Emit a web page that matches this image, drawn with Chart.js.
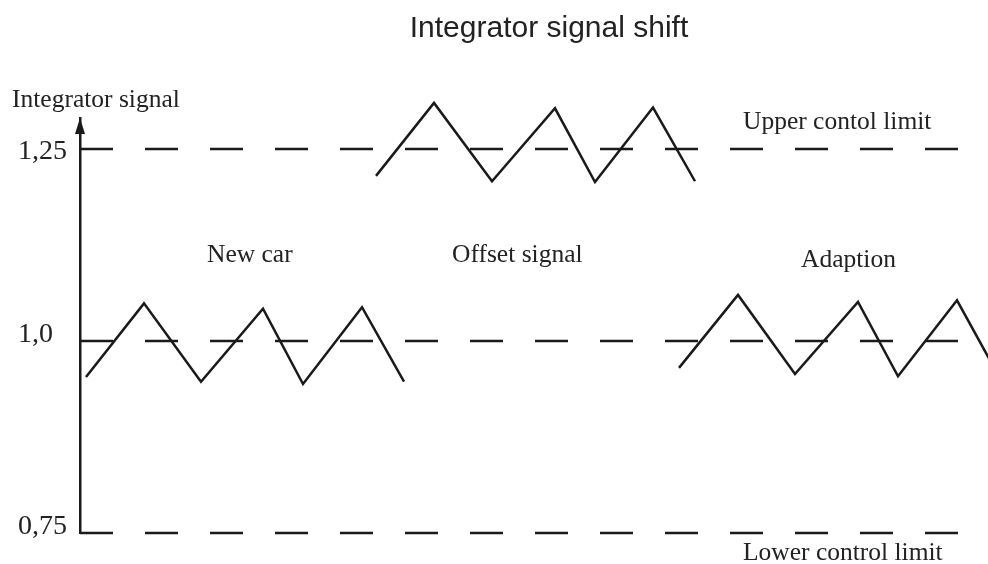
<!DOCTYPE html>
<html>
<head>
<meta charset="utf-8">
<title>Integrator signal shift</title>
<script src="https://cdn.jsdelivr.net/npm/chart.js@4/dist/chart.umd.min.js"></script>
<style>
  html, body { margin: 0; padding: 0; background: #fff; }
  #wrap { width: 988px; height: 564px; position: relative; }
</style>
</head>
<body>
<div id="wrap"><canvas id="signalChart"></canvas></div>
<script>
// time axis runs 0..908 (arbitrary units), signal axis 0.75..~1.29
const tickValues = [0.75, 1.0, 1.25];
const tickLabels = ['0,75', '1,0', '1,25'];
const limitStart = 0;
const limitEnd = 878;

// zigzag signals
const newCarX = [6, 64, 121, 183, 223, 282, 324];
const newCarY = [0.953, 1.049, 0.947, 1.042, 0.944, 1.044, 0.947];
const offsetX = [296, 354, 412, 475, 515, 573, 615];
const offsetY = [1.215, 1.310, 1.208, 1.303, 1.207, 1.304, 1.208];
const adaptX = [599, 658, 715, 778, 818, 877, 918];
const adaptY = [0.965, 1.060, 0.957, 1.051, 0.954, 1.053, 0.956];

const ink = '#1a1a1a';
const serif = '"Liberation Serif", "DejaVu Serif", serif';

function pts(xs, ys) {
    return xs.map((x, i) => ({ x: x, y: ys[i] }));
}

function limitLine(value) {
    return {
        data: [{ x: limitStart, y: value }, { x: limitEnd, y: value }],
        borderColor: ink,
        borderWidth: 2.5,
        borderDash: [33, 32],
        pointRadius: 0,
        clip: false
    };
}

function zigzag(xs, ys) {
    return {
        data: pts(xs, ys),
        borderColor: ink,
        borderWidth: 2.5,
        pointRadius: 0,
        tension: 0,
        clip: false
    };
}

// texts, arrow head and tick labels
const decorations = {
    id: 'decorations',
    afterDraw(chart) {
        const ctx = chart.ctx;
        const area = chart.chartArea;
        const yScale = chart.scales.y;
        ctx.save();

        // arrow head on the signal axis
        ctx.fillStyle = ink;
        ctx.beginPath();
        ctx.moveTo(area.left, area.top);
        ctx.lineTo(area.left - 5, area.top + 16);
        ctx.lineTo(area.left + 5, area.top + 16);
        ctx.closePath();
        ctx.fill();

        // tick labels
        ctx.fillStyle = '#222';
        ctx.font = '28px ' + serif;
        ctx.textAlign = 'left';
        ctx.textBaseline = 'alphabetic';
        tickValues.forEach((v, i) => {
            let y = yScale.getPixelForValue(v);
            if (v === 1.25) y += 9;
            ctx.fillText(tickLabels[i], 18, y + 1);
        });

        // title
        ctx.font = '30px "Liberation Sans", Arial, sans-serif';
        ctx.textAlign = 'center';
        ctx.fillText('Integrator signal shift', 549, 37);

        // annotations
        ctx.font = '25.5px ' + serif;
        ctx.textAlign = 'left';
        ctx.fillText('Integrator signal', 12, 107);
        ctx.fillText('Upper contol limit', 743, 129);
        ctx.fillText('New car', 207, 262);
        ctx.fillText('Offset signal', 452, 262);
        ctx.fillText('Adaption', 801, 267);
        ctx.fillText('Lower control limit', 743, 560);

        ctx.restore();
    }
};

new Chart(document.getElementById('signalChart'), {
    type: 'line',
    data: {
        datasets: [
            limitLine(tickValues[2]),
            limitLine(tickValues[1]),
            limitLine(tickValues[0]),
            zigzag(newCarX, newCarY),
            zigzag(offsetX, offsetY),
            zigzag(adaptX, adaptY)
        ]
    },
    options: {
        responsive: true,
        maintainAspectRatio: false,
        animation: false,
        layout: { padding: { top: 118, bottom: 31, left: 0, right: 0 } },
        plugins: {
            legend: { display: false },
            title: { display: false },
            tooltip: { enabled: false }
        },
        scales: {
            x: {
                type: 'linear',
                min: 0,
                max: 908,
                display: false
            },
            y: {
                type: 'linear',
                min: 0.75,
                max: 0.75 + 415 / 768,
                grid: { display: false },
                border: { display: true, color: ink, width: 2.5 },
                ticks: { display: false },
                afterFit(scale) { scale.width = 80; }
            }
        }
    },
    plugins: [decorations]
});
</script>
</body>
</html>
